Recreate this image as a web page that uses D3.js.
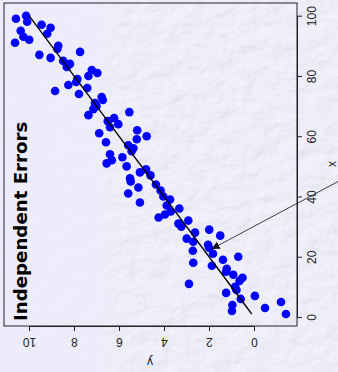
<!DOCTYPE html>
<html>
<head>
<meta charset="utf-8">
<script src="https://cdn.jsdelivr.net/npm/d3@7"></script>
<style>
  html, body { margin: 0; padding: 0; background: #ebebfa; }
  svg { display: block; }
</style>
</head>
<body>
<div class="chart"></div>
<script>
// Data
const xValues = [1, 2, 3, 4, 5, 6, 7, 8, 9, 10, 11, 12, 13, 14, 15, 16, 17, 18, 19, 20,
  21, 22, 23, 24, 25, 26, 27, 28, 29, 30, 31, 32, 33, 34, 35, 36, 37, 38, 39, 40,
  41, 42, 43, 44, 45, 46, 47, 48, 49, 50, 51, 52, 53, 54, 55, 56, 57, 58, 59, 60,
  61, 62, 63, 64, 65, 66, 67, 68, 69, 70, 71, 72, 73, 74, 75, 76, 77, 78, 79, 80,
  81, 82, 83, 84, 85, 86, 87, 88, 89, 90, 91, 92, 93, 94, 95, 96, 97, 98, 99, 100];
const yValues = [-1.42, 0.98, -0.49, 0.96, -1.2, 0.59, -0.04, 1.24, 0.78, 0.84,
  2.89, 0.64, 0.51, 0.92, 1.24, 1.21, 1.87, 2.70, 1.38, 0.70,
  1.82, 2.72, 2.0, 2.04, 2.70, 2.99, 1.50, 2.62, 1.99, 3.23,
  3.36, 2.92, 4.24, 3.96, 3.7, 3.32, 3.88, 5.07, 3.73, 4.03,
  5.59, 4.15, 5.14, 4.36, 5.48, 5.51, 4.6, 5.07, 4.8, 5.66,
  6.55, 6.32, 5.85, 6.4, 5.44, 5.36, 5.59, 6.58, 5.21, 4.77,
  6.88, 5.19, 6.4, 6.03, 6.5, 6.22, 7.36, 5.54, 7.14, 7.0,
  7.07, 6.72, 6.77, 7.78, 8.84, 7.41, 8.25, 7.9, 7.85, 7.36,
  6.96, 7.21, 8.32, 8.18, 8.48, 9.04, 9.54, 7.73, 8.74, 8.7,
  10.62, 9.99, 10.25, 9.19, 10.37, 9.04, 9.44, 10.08, 10.58, 10.13];
const xTicks = [0, 20, 40, 60, 80, 100];
const yTicks = [0, 2, 4, 6, 8, 10];
const fitX = [1, 100];
const fitY = [0.1, 10.0];
const arrowFrom = [50, -5];
const arrowTo = [22.6, 1.88];

const width = 338, height = 372;
const box = { left: 4, top: 3, right: 297, bottom: 326 };

const svg = d3.select('.chart')
  .append('svg')
  .attr('width', width)
  .attr('height', height);

const defs = svg.append('defs');

// embossed paper texture
const tex = defs.append('filter').attr('id', 'tex')
  .attr('x', 0).attr('y', 0).attr('width', '100%').attr('height', '100%');
tex.append('feTurbulence')
  .attr('type', 'fractalNoise')
  .attr('baseFrequency', '0.045 0.06')
  .attr('numOctaves', 3)
  .attr('seed', 7)
  .attr('result', 'noise');
tex.append('feDiffuseLighting')
  .attr('in', 'noise')
  .attr('surfaceScale', 1.4)
  .attr('diffuseConstant', 1)
  .attr('lighting-color', '#f3f3ff')
  .append('feDistantLight')
  .attr('azimuth', 225)
  .attr('elevation', 72);

const smooth = defs.append('linearGradient').attr('id', 'smooth')
  .attr('x1', 0).attr('x2', 1).attr('y1', 0).attr('y2', 0);
smooth.append('stop').attr('offset', '0%').attr('stop-color', '#ececfb').attr('stop-opacity', 0.95);
smooth.append('stop').attr('offset', '28%').attr('stop-color', '#ececfb').attr('stop-opacity', 0.85);
smooth.append('stop').attr('offset', '36%').attr('stop-color', '#ececfb').attr('stop-opacity', 0);

defs.append('marker')
  .attr('id', 'head')
  .attr('viewBox', '0 0 10 10')
  .attr('refX', 10).attr('refY', 5)
  .attr('markerWidth', 8).attr('markerHeight', 8)
  .attr('markerUnits', 'userSpaceOnUse')
  .attr('orient', 'auto')
  .append('path')
  .attr('d', 'M0,0L10,5L0,10Z')
  .attr('fill', '#111');

svg.append('rect')
  .attr('width', width).attr('height', height)
  .attr('fill', '#ebebfa')
  .attr('filter', 'url(#tex)');
svg.append('rect')
  .attr('width', width).attr('height', height)
  .attr('fill', 'url(#smooth)');

// Scales: chart is turned a quarter turn, x runs upward, y runs leftward
const xScale = d3.scaleLinear().domain([0, 100]).range([317, 15.7]);
const yScale = d3.scaleLinear().domain([0, 10]).range([254, 29]);

// Points
svg.append('g')
  .selectAll('circle')
  .data(xValues.map((x, i) => ({ x: x, y: yValues[i] })))
  .enter()
  .append('circle')
  .attr('cx', d => yScale(d.y))
  .attr('cy', d => xScale(d.x))
  .attr('r', 4.3)
  .attr('fill', '#0000ff');

// Fitted line
const line = d3.line()
  .x(d => yScale(d[1]))
  .y(d => xScale(d[0]));
svg.append('path')
  .datum(fitX.map((x, i) => [x, fitY[i]]))
  .attr('d', line)
  .attr('fill', 'none')
  .attr('stroke', '#000')
  .attr('stroke-width', 1.3);

// Arrow
svg.append('line')
  .attr('x1', yScale(arrowFrom[1])).attr('y1', xScale(arrowFrom[0]))
  .attr('x2', yScale(arrowTo[1])).attr('y2', xScale(arrowTo[0]))
  .attr('stroke', '#111')
  .attr('stroke-width', 0.8)
  .attr('marker-end', 'url(#head)');

// Box
svg.append('rect')
  .attr('x', box.left).attr('y', box.top)
  .attr('width', box.right - box.left)
  .attr('height', box.bottom - box.top)
  .attr('fill', 'none')
  .attr('stroke', '#222')
  .attr('stroke-width', 1);

// Axes
const xAxis = d3.axisRight(xScale)
  .tickValues(xTicks)
  .tickSizeInner(5)
  .tickSizeOuter(0);
const xAxisDraw = svg.append('g')
  .attr('transform', `translate(${box.right},0)`)
  .call(xAxis);
xAxisDraw.selectAll('text')
  .attr('x', null).attr('dy', null)
  .attr('text-anchor', 'middle')
  .attr('transform', 'translate(19,0) rotate(-90)');

const yAxis = d3.axisBottom(yScale)
  .tickValues(yTicks)
  .tickSizeInner(5)
  .tickSizeOuter(0);
const yAxisDraw = svg.append('g')
  .attr('transform', `translate(0,${box.bottom})`)
  .call(yAxis);
yAxisDraw.selectAll('text')
  .attr('y', null).attr('dy', null)
  .attr('text-anchor', 'middle')
  .attr('transform', 'translate(0,11.5) rotate(180)');

svg.selectAll('.tick line, .domain').attr('stroke', '#222');
svg.selectAll('.tick text')
  .attr('fill', '#222')
  .style('font-family', '"Liberation Sans", Arial, sans-serif')
  .style('font-size', '12px');

// Labels
svg.append('text')
  .attr('transform', 'translate(335.5,164) rotate(-90)')
  .attr('text-anchor', 'middle')
  .style('font-family', '"Liberation Sans", Arial, sans-serif')
  .style('font-size', '12px')
  .attr('fill', '#222')
  .text('x');
svg.append('text')
  .attr('transform', 'translate(150,358) rotate(180)')
  .attr('text-anchor', 'middle')
  .style('font-family', '"Liberation Sans", Arial, sans-serif')
  .style('font-size', '12px')
  .attr('fill', '#222')
  .text('y');

svg.append('text')
  .attr('transform', 'translate(27,321) rotate(-90)')
  .style('font-family', '"DejaVu Sans", sans-serif')
  .style('font-size', '18.2px')
  .style('font-weight', 'bold')
  .attr('fill', '#000')
  .text('Independent Errors');
</script>
</body>
</html>
